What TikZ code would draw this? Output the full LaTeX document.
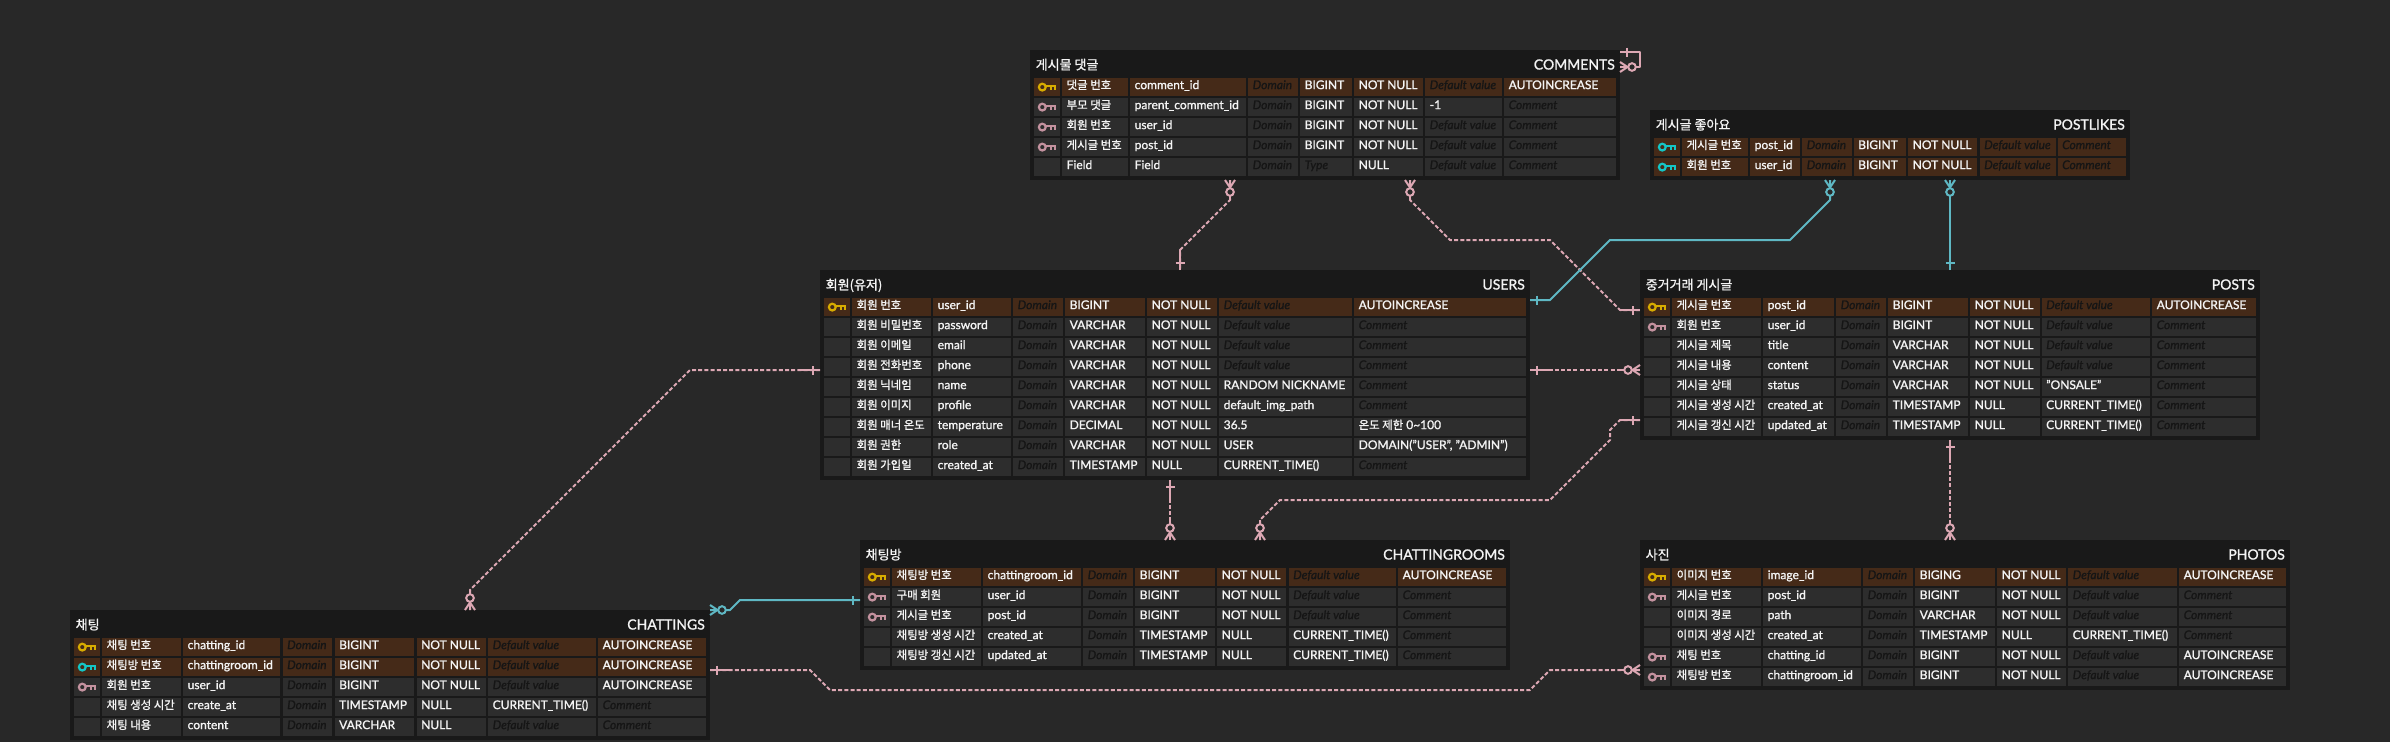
\documentclass[tikz,border=0pt]{standalone}
\usepackage{fontspec}
\setmainfont{Lato}[FakeBold=1.2]
\newfontfamily\cjkfont{Noto Sans CJK KR}[FakeBold=1.2]
\definecolor{canvasc}{HTML}{282828}
\definecolor{tablec}{HTML}{191919}
\definecolor{cellc}{HTML}{2D2D2D}
\definecolor{pkc}{HTML}{452A18}
\definecolor{celltext}{HTML}{F4F4F4}
\definecolor{phtext}{HTML}{151515}
\definecolor{keygold}{HTML}{D8AC00}
\definecolor{keypink}{HTML}{C4929F}
\definecolor{keycyan}{HTML}{14C6C6}
\definecolor{relpink}{HTML}{DDA8B4}
\definecolor{relcyan}{HTML}{5FB8C4}
\newcommand\kr[1]{{\cjkfont\fontsize{11.4}{14}\selectfont #1}}
\newcommand\ph[1]{\textcolor{phtext}{\itshape #1}}
\newcommand\pD{\ph{Domain}}
\newcommand\pT{\ph{Type}}
\newcommand\pV{\ph{Default value}}
\newcommand\pC{\ph{Comment}}
\newcount\erowno
\tikzset{
  x=1pt,y=-1pt,
  tablebox/.style={fill=tablec,draw=none,inner sep=0pt,outer sep=0pt,anchor=north west},
  titletext/.style={inner sep=0pt,text=celltext,font=\fontsize{14}{16}\selectfont},
  rowtext/.style={anchor=base west,inner sep=0pt,text=celltext,font=\fontsize{12}{14}\selectfont},
  rel/.style={line width=2pt,line join=round},
  relP/.style={rel,color=relpink,dash pattern=on 4pt off 2.2pt},
  relC/.style={rel,color=relcyan},
  pics/onemark/.style={code={
    \draw[line width=2pt] (0,0)--(20,0);
    \draw[line width=2pt] (7,-4.5)--(7,4.5);
  }},
  pics/manymark/.style={code={
    \draw[line width=2pt] (0,0)--(20,0);
    \draw[line width=2pt] (0,-5)--(7.5,0)--(0,5);
    \filldraw[line width=2pt,fill=canvasc] (12,0) circle[radius=3.8];
  }},
  pics/keyicon/.style={code={
    \draw[line width=2.2pt] (0,0) circle[radius=3.4];
    \draw[line width=2.4pt,line join=miter] (3.4,-1.2)--(12.8,-1.2)--(12.8,3);
    \draw[line width=2.2pt] (8.6,-1.2)--(8.6,2.6);
  }},
}
\newcommand\erdtable[6]{%
  \node[tablebox,minimum width={(#3-#2)*1pt},minimum height={(30+20*#5)*1pt}] (#1) at (#2,#4) {};
  \def\curname{#1}\def\curT{#4}\def\colx{{#6}}\erowno=0
}
\newcommand\tabletitles[2]{%
  \node[titletext,anchor=base west] (\curname-kr) at ([xshift=5.5pt,yshift=-19.5pt]\curname.north west) {{\cjkfont\fontsize{13}{16}\selectfont #1}};
  \node[titletext,anchor=base east] (\curname-en) at ([xshift=-5pt,yshift=-19.5pt]\curname.north east) {#2};
}
\newcommand\erow[3]{%
  \advance\erowno by 1
  \pgfmathsetmacro\yt{\curT+27.8+20*(\the\erowno-1)}
  \pgfmathsetmacro\yb{\yt+18.4}
  \pgfmathsetmacro\ybase{\yt+11.3}
  \pgfmathsetmacro\xa{\colx[0]}
  \pgfmathsetmacro\xb{\colx[1]}
  \fill[#1] (\xa,\yt) rectangle (\xb,\yb);
  \if\relax\detokenize{#2}\relax\else
    \pic[color=#2] at (\xa+8.3,\yt+9.3) {keyicon};
  \fi
  \foreach \cc [count=\i from 1] in {#3}{%
    \pgfmathsetmacro\xa{\colx[2*\i]}
    \pgfmathsetmacro\xb{\colx[2*\i+1]}
    \fill[#1] (\xa,\yt) rectangle (\xb,\yb);
    \node[rowtext] (\curname-\the\erowno-\i) at (\xa+4.5,\ybase) {\cc};
  }
}
\begin{document}
\begin{tikzpicture}
\useasboundingbox (0,0) rectangle (2390,742);
\fill[canvasc] (0,0) rectangle (2390,742);

% COMMENTS
\erdtable{comments}{1030}{1620}{50}{5}{1034,1060,1062,1128,1130,1246,1248,1298,1300,1352,1354,1423,1425,1502,1504,1616}
\tabletitles{게시물 댓글}{COMMENTS}
\erow{pkc}{keygold}{{\kr{댓글 번호}},comment\_id,\pD,BIGINT,NOT NULL,\pV,AUTOINCREASE}
\erow{cellc}{keypink}{{\kr{부모 댓글}},parent\_comment\_id,\pD,BIGINT,NOT NULL,-1,\pC}
\erow{cellc}{keypink}{{\kr{회원 번호}},user\_id,\pD,BIGINT,NOT NULL,\pV,\pC}
\erow{cellc}{keypink}{{\kr{게시글 번호}},post\_id,\pD,BIGINT,NOT NULL,\pV,\pC}
\erow{cellc}{}{Field,Field,\pD,\pT,NULL,\pV,\pC}

% POSTLIKES
\erdtable{postlikes}{1650}{2130}{110}{2}{1654,1680,1682,1748,1750,1800,1802,1851.5,1853.5,1906,1908,1977,1979.5,2055.5,2057.5,2126}
\tabletitles{게시글 좋아요}{POSTLIKES}
\erow{pkc}{keycyan}{{\kr{게시글 번호}},post\_id,\pD,BIGINT,NOT NULL,\pV,\pC}
\erow{pkc}{keycyan}{{\kr{회원 번호}},user\_id,\pD,BIGINT,NOT NULL,\pV,\pC}

% USERS
\erdtable{users}{820}{1530}{270}{9}{824,850,852,931,933,1011,1013,1063,1065,1145,1147,1217,1219,1352,1354,1526}
\tabletitles{회원(유저)}{USERS}
\erow{pkc}{keygold}{{\kr{회원 번호}},user\_id,\pD,BIGINT,NOT NULL,\pV,AUTOINCREASE}
\erow{cellc}{}{{\kr{회원 비밀번호}},password,\pD,VARCHAR,NOT NULL,\pV,\pC}
\erow{cellc}{}{{\kr{회원 이메일}},email,\pD,VARCHAR,NOT NULL,\pV,\pC}
\erow{cellc}{}{{\kr{회원 전화번호}},phone,\pD,VARCHAR,NOT NULL,\pV,\pC}
\erow{cellc}{}{{\kr{회원 닉네임}},name,\pD,VARCHAR,NOT NULL,RANDOM NICKNAME,\pC}
\erow{cellc}{}{{\kr{회원 이미지}},profile,\pD,VARCHAR,NOT NULL,default\_img\_path,\pC}
\erow{cellc}{}{{\kr{회원 매너 온도}},temperature,\pD,DECIMAL,NOT NULL,36.5,{\kr{온도 제한} 0\textasciitilde100}}
\erow{cellc}{}{{\kr{회원 권한}},role,\pD,VARCHAR,NOT NULL,USER,{DOMAIN("USER", "ADMIN")}}
\erow{cellc}{}{{\kr{회원 가입일}},created\_at,\pD,TIMESTAMP,NULL,CURRENT\_TIME(),\pC}

% POSTS
\erdtable{posts}{1640}{2260}{270}{7}{1644,1670,1672,1761,1763,1834,1836,1886,1888,1968,1970,2039.5,2041.5,2150,2152,2256}
\tabletitles{중거거래 게시글}{POSTS}
\erow{pkc}{keygold}{{\kr{게시글 번호}},post\_id,\pD,BIGINT,NOT NULL,\pV,AUTOINCREASE}
\erow{cellc}{keypink}{{\kr{회원 번호}},user\_id,\pD,BIGINT,NOT NULL,\pV,\pC}
\erow{cellc}{}{{\kr{게시글 제목}},title,\pD,VARCHAR,NOT NULL,\pV,\pC}
\erow{cellc}{}{{\kr{게시글 내용}},content,\pD,VARCHAR,NOT NULL,\pV,\pC}
\erow{cellc}{}{{\kr{게시글 상태}},status,\pD,VARCHAR,NOT NULL,"ONSALE",\pC}
\erow{cellc}{}{{\kr{게시글 생성 시간}},created\_at,\pD,TIMESTAMP,NULL,CURRENT\_TIME(),\pC}
\erow{cellc}{}{{\kr{게시글 갱신 시간}},updated\_at,\pD,TIMESTAMP,NULL,CURRENT\_TIME(),\pC}

% CHATTINGS
\erdtable{chattings}{70}{710}{610}{5}{74,100,102,181,183,280,282.5,332,334.5,414,416.5,485.5,488,596,598,706}
\tabletitles{채팅}{CHATTINGS}
\erow{pkc}{keygold}{{\kr{채팅 번호}},chatting\_id,\pD,BIGINT,NOT NULL,\pV,AUTOINCREASE}
\erow{pkc}{keycyan}{{\kr{채팅방 번호}},chattingroom\_id,\pD,BIGINT,NOT NULL,\pV,AUTOINCREASE}
\erow{cellc}{keypink}{{\kr{회원 번호}},user\_id,\pD,BIGINT,NOT NULL,\pV,AUTOINCREASE}
\erow{cellc}{}{{\kr{채팅 생성 시간}},create\_at,\pD,TIMESTAMP,NULL,CURRENT\_TIME(),\pC}
\erow{cellc}{}{{\kr{채팅 내용}},content,\pD,VARCHAR,NULL,\pV,\pC}

% CHATTINGROOMS
\erdtable{rooms}{860}{1510}{540}{5}{864,890,892,981,983,1081,1083,1133,1135,1215,1217,1286,1288.5,1396,1398,1506}
\tabletitles{채팅방}{CHATTINGROOMS}
\erow{pkc}{keygold}{{\kr{채팅방 번호}},chattingroom\_id,\pD,BIGINT,NOT NULL,\pV,AUTOINCREASE}
\erow{cellc}{keypink}{{\kr{구매 회원}},user\_id,\pD,BIGINT,NOT NULL,\pV,\pC}
\erow{cellc}{keypink}{{\kr{게시글 번호}},post\_id,\pD,BIGINT,NOT NULL,\pV,\pC}
\erow{cellc}{}{{\kr{채팅방 생성 시간}},created\_at,\pD,TIMESTAMP,NULL,CURRENT\_TIME(),\pC}
\erow{cellc}{}{{\kr{채팅방 갱신 시간}},updated\_at,\pD,TIMESTAMP,NULL,CURRENT\_TIME(),\pC}

% PHOTOS
\erdtable{photos}{1640}{2290}{540}{6}{1644,1670,1672,1761,1763,1861,1863,1913,1915,1995,1997,2066,2068,2177,2179,2286}
\tabletitles{사진}{PHOTOS}
\erow{pkc}{keygold}{{\kr{이미지 번호}},image\_id,\pD,BIGING,NOT NULL,\pV,AUTOINCREASE}
\erow{cellc}{keypink}{{\kr{게시글 번호}},post\_id,\pD,BIGINT,NOT NULL,\pV,\pC}
\erow{cellc}{}{{\kr{이미지 경로}},path,\pD,VARCHAR,NOT NULL,\pV,\pC}
\erow{cellc}{}{{\kr{이미지 생성 시간}},created\_at,\pD,TIMESTAMP,NULL,CURRENT\_TIME(),\pC}
\erow{cellc}{keypink}{{\kr{채팅 번호}},chatting\_id,\pD,BIGINT,NOT NULL,\pV,AUTOINCREASE}
\erow{cellc}{keypink}{{\kr{채팅방 번호}},chattingroom\_id,\pD,BIGINT,NOT NULL,\pV,AUTOINCREASE}

% connector ends, anchored on the tables
\coordinate (cmSa) at ([xshift=200pt]comments.south west);
\coordinate (cmSb) at ([xshift=380pt]comments.south west);
\coordinate (cmRa) at ([yshift=-2pt]comments.north east);
\coordinate (cmRb) at ([yshift=-17pt]comments.north east);
\coordinate (usN) at ([xshift=360pt]users.north west);
\coordinate (usEa) at ([yshift=-30pt]users.north east);
\coordinate (usEb) at ([yshift=-100pt]users.north east);
\coordinate (usW) at ([yshift=-100pt]users.north west);
\coordinate (usS) at ([xshift=350pt]users.south west);
\coordinate (plSa) at ([xshift=180pt]postlikes.south west);
\coordinate (plSb) at ([xshift=300pt]postlikes.south west);
\coordinate (poN) at ([xshift=310pt]posts.north west);
\coordinate (poWa) at ([yshift=-40pt]posts.north west);
\coordinate (poWb) at ([yshift=-100pt]posts.north west);
\coordinate (poWc) at ([yshift=-150pt]posts.north west);
\coordinate (poS) at ([xshift=310pt]posts.south west);
\coordinate (chN) at ([xshift=400pt]chattings.north west);
\coordinate (chEa) at ([yshift=0pt]chattings.north east);
\coordinate (chEb) at ([yshift=-60pt]chattings.north east);
\coordinate (roW) at ([yshift=-60pt]rooms.north west);
\coordinate (roNa) at ([xshift=310pt]rooms.north west);
\coordinate (roNb) at ([xshift=400pt]rooms.north west);
\coordinate (phN) at ([xshift=310pt]photos.north west);
\coordinate (phW) at ([yshift=-130pt]photos.north west);

% dashed pink connectors
\draw[relP] (cmSa) -- ++(0,20) -- (1180,250) -- (usN);
\draw[relP] (cmSb) -- ++(0,20) -- (1450,240) -- (1550,240) -- (1620,310) -- (poWa);
\draw[relP] (usW) -- (690,370) -- (470,590) -- (chN);
\draw[relP] (usEb) -- (poWb);
\draw[relP] (usS) -- (roNa);
\draw[relP] (poWc) -- (1620,420) -- (1610,430) -- (1610,440) -- (1550,500) -- (1280,500) -- (1260,520) -- (roNb);
\draw[relP] (poS) -- (phN);
\draw[relP] (chEb) -- (810,670) -- (830,690) -- (1530,690) -- (1550,670) -- (phW);
% solid cyan connectors
\draw[relC] (plSa) -- ++(0,20) -- (1790,240) -- (1610,240) -- (1550,300) -- (usEa);
\draw[relC] (plSb) -- (poN);
\draw[relC] (roW) -- (740,600) -- (730,610) -- (chEa);
% self reference
\draw[rel,color=relpink] (cmRa) -- (1640,52) -- (1640,67) -- (cmRb);

% end marks
\pic[color=relpink] at (cmRa) {onemark};
\pic[color=relpink] at (cmRb) {manymark};
\pic[color=relpink,rotate=-90] at (cmSa) {manymark};
\pic[color=relpink,rotate=-90] at (cmSb) {manymark};
\pic[color=relpink,rotate=90] at (usN) {onemark};
\pic[color=relpink,rotate=180] at (poWa) {onemark};
\pic[color=relpink,rotate=180] at (usW) {onemark};
\pic[color=relpink,rotate=90] at (chN) {manymark};
\pic[color=relpink] at (usEb) {onemark};
\pic[color=relpink,rotate=180] at (poWb) {manymark};
\pic[color=relpink,rotate=-90] at (usS) {onemark};
\pic[color=relpink,rotate=90] at (roNa) {manymark};
\pic[color=relpink,rotate=180] at (poWc) {onemark};
\pic[color=relpink,rotate=90] at (roNb) {manymark};
\pic[color=relpink,rotate=-90] at (poS) {onemark};
\pic[color=relpink,rotate=90] at (phN) {manymark};
\pic[color=relpink] at (chEb) {onemark};
\pic[color=relpink,rotate=180] at (phW) {manymark};
\pic[color=relcyan,rotate=-90] at (plSa) {manymark};
\pic[color=relcyan] at (usEa) {onemark};
\pic[color=relcyan,rotate=-90] at (plSb) {manymark};
\pic[color=relcyan,rotate=90] at (poN) {onemark};
\pic[color=relcyan,rotate=180] at (roW) {onemark};
\pic[color=relcyan] at (chEa) {manymark};
\end{tikzpicture}
\end{document}
